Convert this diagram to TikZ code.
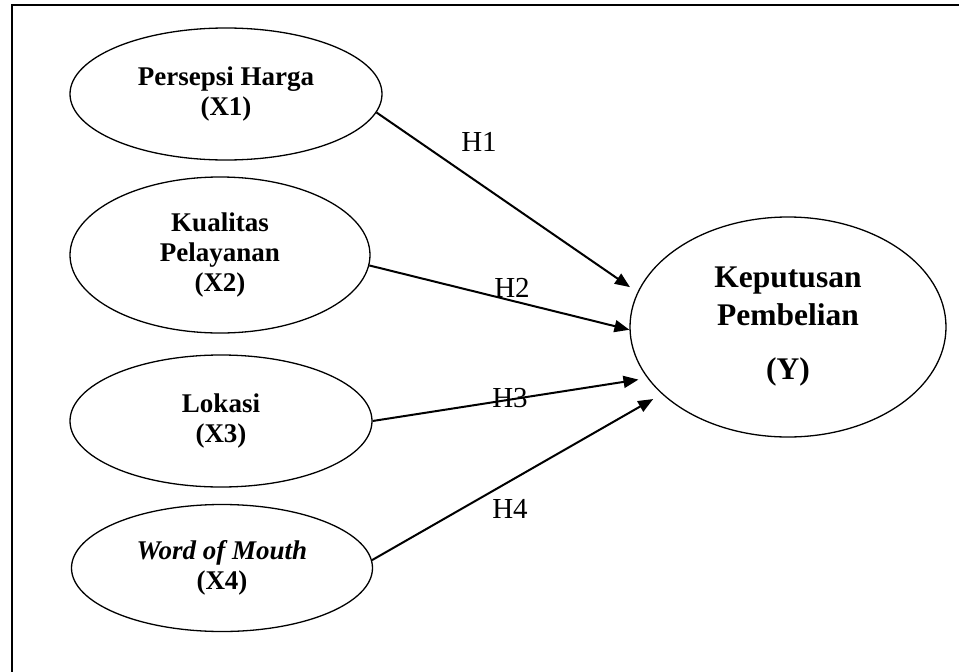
\documentclass[tikz,border=0pt]{standalone}
\usepackage{fontspec}
\setmainfont{Liberation Serif}
\usetikzlibrary{shapes.geometric,arrows.meta}
\tikzset{
  var/.style={draw,ellipse,line width=1.3pt,inner sep=0pt,align=center,
    font=\bfseries\fontsize{27}{30}\selectfont},
  hyp/.style={line width=2pt,-{Triangle[length=15pt,width=12pt]}},
  lbl/.style={inner sep=0pt,font=\fontsize{29}{32}\selectfont}
}
\begin{document}
\begin{tikzpicture}[x=1pt,y=-1pt]
    \useasboundingbox (0,0) rectangle (959,672);
    % frame
    \draw[line width=2.5pt] (11,5)--(959,5);
    \draw[line width=2pt] (12,5)--(12,672);
    % variables
    \node[var,minimum width=312pt,minimum height=132pt] (X1) at (226,94) {Persepsi Harga\\(X1)};
    \node[var,minimum width=300pt,minimum height=156pt] (X2) at (220,255) {Kualitas\\Pelayanan\\(X2)};
    \node[var,minimum width=302pt,minimum height=132pt] (X3) at (221,421) {Lokasi\\(X3)};
    \node[var,minimum width=301pt,minimum height=127pt] (X4) at (222,568) {\textit{Word of Mouth}\\(X4)};
    \node[var,minimum width=316pt,minimum height=220pt,font=\bfseries\fontsize{31.5}{38}\selectfont] (Y) at (788,327) {Keputusan\\Pembelian\\[16pt](Y)};
    % hypotheses
    \draw[hyp,shorten >=9pt] (X1.-7)--(Y.167);
    \draw[hyp] (X2.-4.6)--(Y.181.5);
    \draw[hyp,shorten >=9pt] (X3.-0.8)--(Y.200);
    \draw[hyp,shorten >=10pt] (X4.3)--(Y.208);
    \node[lbl] (h1) at (479,142) {H1};
    \node[lbl] (h2) at (512,288) {H2};
    \node[lbl] (h3) at (510,398) {H3};
    \node[lbl] (h4) at (510,509) {H4};
\end{tikzpicture}
\end{document}
